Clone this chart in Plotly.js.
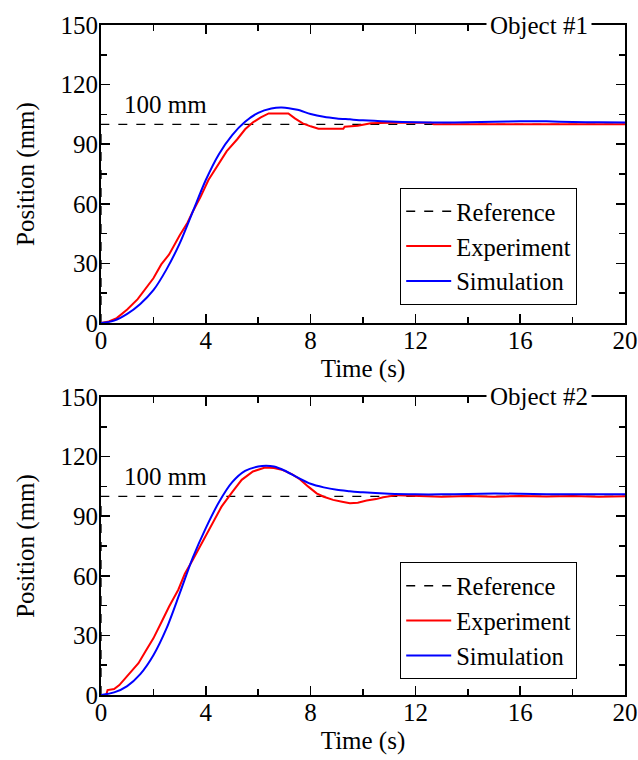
<!DOCTYPE html>
<html>
<head>
<meta charset="utf-8">
<script src="https://cdn.plot.ly/plotly-3.0.1.min.js"></script>
<style>html,body{margin:0;padding:0;background:#fff;}#chart{width:638px;height:760px;}</style>
</head>
<body>
<div id="chart"></div>
<script>
// Reference step (both objects)
const refT = [0, 0, 20];
const refY = [0, 100, 100];

// Object #1
const sim1T = [0, 0.5, 1.0, 1.5, 2.0, 2.5, 3.0, 3.5, 4.0, 4.5, 5.0, 5.5, 6.0, 6.5, 6.9, 7.5, 8.0, 8.5, 9.0, 9.5, 10, 11, 12, 13, 14, 15, 16, 17, 18, 19, 20];
const sim1Y = [0, 1.2, 4.6, 9.6, 16.5, 27, 40, 56, 72, 85, 94.5, 101.3, 105.8, 108, 108.5, 107.3, 105.2, 103.8, 103, 102.5, 102, 101.4, 101, 100.9, 101, 101.3, 101.5, 101.5, 101.2, 101, 100.9];
const exp1T = [0, 0.3, 0.6, 1.0, 1.4, 1.7, 2.0, 2.3, 2.6, 3.0, 3.3, 3.5, 3.8, 4.1, 4.4, 4.8, 5.2, 5.5, 5.8, 6.1, 6.4, 7.15, 7.4, 7.7, 8.0, 8.3, 9.25, 9.3, 9.8, 10.3, 11, 12.6, 12.7, 20];
const exp1Y = [0, 0.8, 2.5, 6.8, 12, 17, 22.5, 29.5, 34.5, 44, 50.5, 56, 63.5, 72, 78.5, 86.5, 92.5, 97.5, 101, 103.5, 105.5, 105.5, 103, 100.5, 99, 97.8, 97.8, 98.8, 99.3, 100.5, 100.8, 100.8, 100, 100];

// Object #2
const sim2T = [0, 0.5, 1.0, 1.5, 2.0, 2.5, 3.0, 3.5, 4.0, 4.5, 5.0, 5.5, 6.0, 6.3, 6.6, 7.0, 7.5, 8.0, 8.5, 9.0, 9.5, 10, 11, 12, 13, 14, 15, 16, 17, 18, 19, 20];
const sim2Y = [0, 1.3, 4.5, 10.5, 20, 33.5, 51, 69, 84, 97, 107, 112.8, 115, 115.4, 115, 113, 109.5, 106.3, 104.5, 103.3, 102.6, 102, 101.3, 101, 101, 101.2, 101.4, 101.3, 101.1, 101, 101, 101];
const exp2T = [0, 0.2, 0.25, 0.5, 0.7, 0.92, 1.1, 1.43, 1.7, 2.0, 2.32, 2.6, 2.95, 3.2, 3.5, 3.84, 4.2, 4.6, 5.0, 5.37, 5.8, 6.26, 6.6, 6.9, 7.3, 7.6, 7.9, 8.23, 8.5, 8.86, 9.2, 9.5, 9.8, 10.14, 10.5, 10.77, 11.3, 12, 13, 14, 15, 16, 17, 18, 19, 20];
const exp2Y = [0, 0, 2.5, 3, 5, 8.4, 11, 16, 22, 28.5, 37, 44.5, 53, 61, 68, 76.4, 85, 94.8, 102, 108.3, 112.5, 114.5, 114.2, 113.4, 111, 108.5, 105, 101.5, 99.8, 98.2, 97.3, 96.5, 96.8, 97.9, 98.6, 99.5, 100.6, 100.2, 99.8, 100.1, 99.8, 100.2, 99.9, 100.1, 99.8, 100];

const seriesNames = ["Reference", "Experiment", "Simulation"];
const objectLabels = ["Object #1", "Object #2"];
const refLabel = "100 mm";

const FONT = "Liberation Serif, Times New Roman, serif";

function traces(sim, exp, xa, ya, leg) {
  return [
    {x: refT, y: refY, xaxis: xa, yaxis: ya, legend: leg, name: seriesNames[0], mode: "lines",
     line: {color: "#000", width: 1.3, dash: "dash"}},
    {x: exp[0], y: exp[1], xaxis: xa, yaxis: ya, legend: leg, name: seriesNames[1], mode: "lines",
     line: {color: "#ff0000", width: 2}},
    {x: sim[0], y: sim[1], xaxis: xa, yaxis: ya, legend: leg, name: seriesNames[2], mode: "lines",
     line: {color: "#0000ff", width: 2, shape: "spline", smoothing: 0.8}}
  ];
}

const data = [].concat(
  traces([sim1T, sim1Y], [exp1T, exp1Y], "x", "y", "legend"),
  traces([sim2T, sim2Y], [exp2T, exp2Y], "x2", "y2", "legend2")
);

function xax(anchor) {
  return {
    anchor: anchor, range: [0, 20], dtick: 4, tick0: 0,
    ticks: "inside", ticklen: 9, tickwidth: 1.5, tickcolor: "#000",
    minor: {dtick: 2, ticks: "inside", ticklen: 6, tickwidth: 1.5, tickcolor: "#000"},
    showline: true, linecolor: "#000", linewidth: 2, mirror: "ticks",
    showgrid: false, zeroline: false,
    ticklabelstandoff: -6,
    tickfont: {family: FONT, size: 25, color: "#000"},
    title: {text: "Time (s)", font: {family: FONT, size: 25, color: "#000"}, standoff: 6},
    fixedrange: true
  };
}
function yax(anchor, domain) {
  return {
    anchor: anchor, domain: domain, range: [0, 150], dtick: 30, tick0: 0,
    ticks: "inside", ticklen: 9, tickwidth: 1.5, tickcolor: "#000",
    minor: {dtick: 15, ticks: "inside", ticklen: 6, tickwidth: 1.5, tickcolor: "#000"},
    showline: true, linecolor: "#000", linewidth: 2, mirror: "ticks",
    showgrid: false, zeroline: false,
    ticklabelstandoff: -4,
    tickfont: {family: FONT, size: 25, color: "#000"},
    title: {text: "Position (mm)", font: {family: FONT, size: 25, color: "#000"}, standoff: 19},
    fixedrange: true
  };
}

const legendStyle = {
  x: 0.571, xanchor: "left", yanchor: "top",
  bgcolor: "#fff", bordercolor: "#000", borderwidth: 1,
  font: {family: FONT, size: 24.5, color: "#000"},
  itemwidth: 45, tracegroupgap: 0
};

const layout = {
  width: 638, height: 760,
  margin: {l: 101, r: 13, t: 25, b: 65},
  paper_bgcolor: "#fff", plot_bgcolor: "#fff",
  font: {family: FONT, color: "#000"},
  showlegend: true,
  xaxis: xax("y"),
  yaxis: yax("x", [0.5552, 1]),
  xaxis2: xax("y2"),
  yaxis2: yax("x2", [0, 0.4448]),
  legend: Object.assign({}, legendStyle, {y: 0.757}),
  legend2: Object.assign({}, legendStyle, {y: 0.198}),
  annotations: [
    {xref: "x", yref: "y", x: 0.8, y: 110, xanchor: "left", yanchor: "middle", text: refLabel, showarrow: false,
     font: {family: FONT, size: 25, color: "#000"}},
    {xref: "x2", yref: "y2", x: 0.8, y: 110, xanchor: "left", yanchor: "middle", text: refLabel, showarrow: false,
     font: {family: FONT, size: 25, color: "#000"}},
    {xref: "x", yref: "paper", x: 16.7, y: 1, xanchor: "center", yanchor: "middle", text: objectLabels[0], showarrow: false,
     bgcolor: "#fff", borderpad: 3, font: {family: FONT, size: 25, color: "#000"}},
    {xref: "x2", yref: "paper", x: 16.7, y: 0.4448, xanchor: "center", yanchor: "middle", text: objectLabels[1], showarrow: false,
     bgcolor: "#fff", borderpad: 3, font: {family: FONT, size: 25, color: "#000"}}
  ]
};

Plotly.newPlot("chart", data, layout, {displayModeBar: false, staticPlot: true});
</script>
</body>
</html>
